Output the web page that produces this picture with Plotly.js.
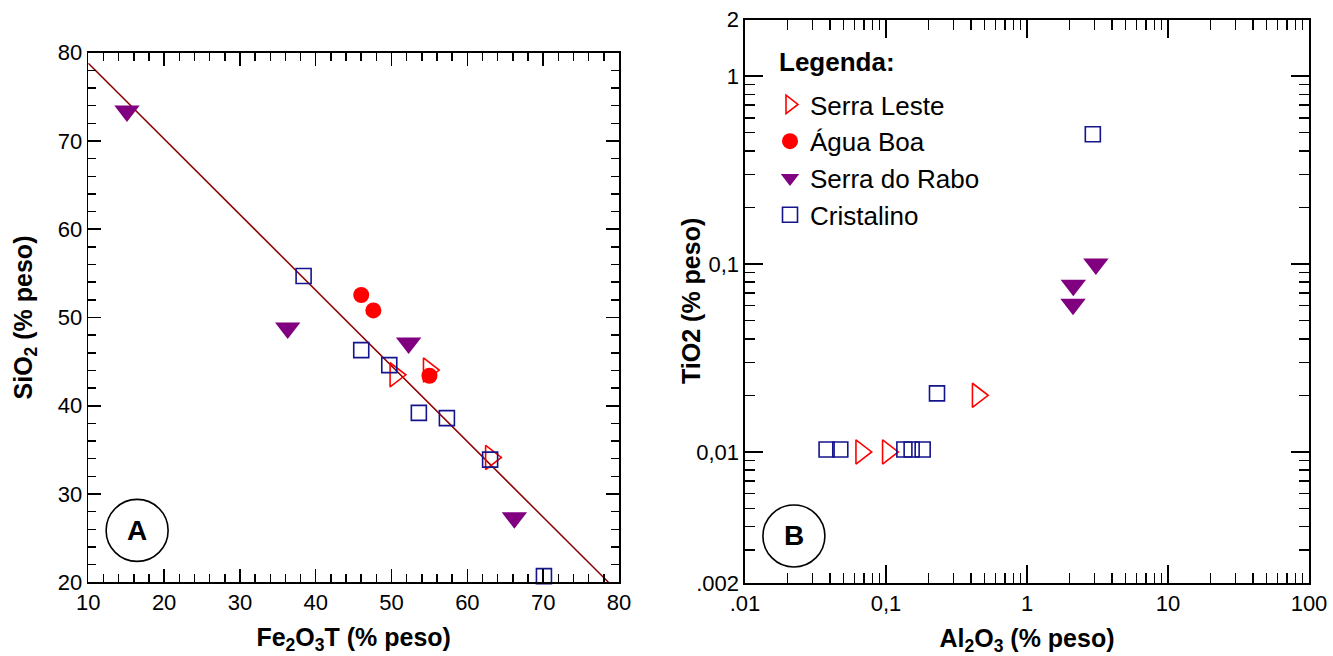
<!DOCTYPE html>
<html><head><meta charset="utf-8">
<script src="https://cdn.plot.ly/plotly-3.0.1.min.js"></script>
<style>html,body{margin:0;padding:0;background:#fff}#chart{width:1333px;height:656px}</style>
</head><body><div id="chart"></div>
<script>
// ---- Panel A: Fe2O3T vs SiO2 (% peso) ----
const serraLesteFe = [50.5, 54.9, 63.1];
const serraLesteSi = [43.5, 44.05, 34.15];
const aguaBoaFe = [46.0, 47.6, 55.0];
const aguaBoaSi = [52.55, 50.8, 43.4];
const serraRaboFe = [15.1, 36.3, 52.25, 66.2];
const serraRaboSi = [73.4, 48.8, 47.1, 27.3];
const cristalinoFe = [38.4, 46.0, 49.7, 53.6, 57.3, 63.0, 70.1];
const cristalinoSi = [54.7, 46.3, 44.6, 39.2, 38.6, 33.9, 20.7];
const fitFe = [10, 78.6];
const fitSi = [78.8, 20];
// ---- Panel B: Al2O3 vs TiO2 (% peso) ----
const serraLesteAl = [0.0667, 0.103, 0.447];
const serraLesteTi = [0.01, 0.01, 0.02];
const serraRaboAl = [3.08, 2.13, 2.12];
const serraRaboTi = [0.1, 0.077, 0.061];
const cristalinoAl = [2.93, 0.23, 0.0379, 0.0474, 0.135, 0.152, 0.182];
const cristalinoTi = [0.49, 0.0205, 0.0103, 0.0103, 0.0103, 0.0103, 0.0103];
// ---- tick labels ----
const xTicksA = [10, 20, 30, 40, 50, 60, 70, 80];
const yTicksA = [20, 30, 40, 50, 60, 70, 80];
const xTickValsB = [0.01, 0.1, 1, 10, 100];
const xTickTextB = ['.01', '0,1', '1', '10', '100'];
const yTickValsB = [0.002, 0.01, 0.1, 1, 2];
const yTickTextB = ['.002', '0,01', '0,1', '1', '2'];

const names = ['Serra Leste', 'Água Boa', 'Serra do Rabo', 'Cristalino'];
const RED = '#ff0000', PURPLE = '#800080', NAVY = '#14148c';
const mk = {
  'Serra Leste': {symbol: 'triangle-right-open', color: RED, size: 21, line: {color: RED, width: 1.6}},
  'Água Boa': {symbol: 'circle', color: RED, size: 16},
  'Serra do Rabo': {symbol: 'triangle-down', color: PURPLE, size: 22},
  'Cristalino': {symbol: 'square-open', color: NAVY, size: 15, line: {color: NAVY, width: 1.6}}
};

function logMinor(lo, hi) {
  const v = [];
  for (let e = -4; e <= 3; e++) for (let m = 2; m <= 9; m++) {
    const t = m * Math.pow(10, e);
    if (t > lo * 1.0001 && t < hi * 0.9999) v.push(t);
  }
  return v;
}

const traces = [
  {x: serraLesteFe, y: serraLesteSi, name: names[0], legendgroup: 'g0'},
  {x: aguaBoaFe, y: aguaBoaSi, name: names[1], legendgroup: 'g1'},
  {x: serraRaboFe, y: serraRaboSi, name: names[2], legendgroup: 'g2'},
  {x: cristalinoFe, y: cristalinoSi, name: names[3], legendgroup: 'g3'}
].map(t => Object.assign({type: 'scatter', mode: 'markers', xaxis: 'x', yaxis: 'y',
  marker: mk[t.name], hoverinfo: 'x+y+name', cliponaxis: false}, t));

traces.unshift({type: 'scatter', mode: 'lines', x: fitFe, y: fitSi, xaxis: 'x', yaxis: 'y',
  line: {color: '#8b0000', width: 1.5}, showlegend: false, hoverinfo: 'skip'});

[
  {x: serraLesteAl, y: serraLesteTi, name: names[0], legendgroup: 'g0'},
  {x: serraRaboAl, y: serraRaboTi, name: names[2], legendgroup: 'g2'},
  {x: cristalinoAl, y: cristalinoTi, name: names[3], legendgroup: 'g3'}
].forEach(t => traces.push(Object.assign({type: 'scatter', mode: 'markers', xaxis: 'x2', yaxis: 'y2',
  marker: mk[t.name], showlegend: false, hoverinfo: 'x+y+name', cliponaxis: false}, t)));

const FONT = 'Arial, "Liberation Sans", sans-serif';
const tickFont = {family: FONT, size: 22, color: '#000'};
const titleFont = {family: FONT, size: 25, color: '#000'};
const base = {showline: true, linecolor: '#000', linewidth: 1.6, mirror: 'ticks', ticks: 'inside',
  tickcolor: '#000', tickwidth: 1.5, ticklen: 13, showgrid: false, zeroline: false,
  tickfont: tickFont, automargin: false};

const layout = {
  width: 1333, height: 656,
  margin: {l: 0, r: 0, t: 0, b: 0},
  paper_bgcolor: '#fff', plot_bgcolor: '#fff',
  font: {family: FONT, color: '#000'},
  xaxis: Object.assign({}, base, {domain: [88.3/1333, 619/1333], range: [10, 80],
    tickmode: 'array', tickvals: xTicksA, anchor: 'y',
    minor: {dtick: 2, ticks: 'inside', ticklen: 8, tickwidth: 1.5, tickcolor: '#000', showgrid: false},
    title: {text: '<b>Fe<sub>2</sub>O<sub>3</sub>T (% peso)</b>', font: titleFont, standoff: 14}}),
  yaxis: Object.assign({}, base, {domain: [(656-582.3)/656, (656-52.7)/656], range: [20, 80],
    tickmode: 'array', tickvals: yTicksA, anchor: 'x',
    minor: {dtick: 2, ticks: 'inside', ticklen: 8, tickwidth: 1.5, tickcolor: '#000', showgrid: false},
    title: {text: '<b>SiO<sub>2</sub> (% peso)</b>', font: titleFont, standoff: 18}}),
  xaxis2: Object.assign({}, base, {domain: [745/1333, 1309/1333], type: 'log', range: [-2, 2],
    tickmode: 'array', tickvals: xTickValsB, ticktext: xTickTextB, anchor: 'y2', ticklen: 18,
    minor: {tickmode: 'array', tickvals: logMinor(0.01, 100), ticks: 'inside', ticklen: 10, tickwidth: 1.5, tickcolor: '#000', showgrid: false},
    title: {text: '<b>Al<sub>2</sub>O<sub>3</sub> (% peso)</b>', font: titleFont, standoff: 14}}),
  yaxis2: Object.assign({}, base, {domain: [(656-583.3)/656, (656-19.5)/656], type: 'log',
    range: [Math.log10(0.002), Math.log10(2)],
    tickmode: 'array', tickvals: yTickValsB, ticktext: yTickTextB, anchor: 'x2', ticklen: 18,
    minor: {tickmode: 'array', tickvals: logMinor(0.002, 2), ticks: 'inside', ticklen: 10, tickwidth: 1.5, tickcolor: '#000', showgrid: false}}),
  legend: {x: 770/1333, y: (656-81)/656, xanchor: 'left', yanchor: 'top', bgcolor: 'rgba(0,0,0,0)',
    borderwidth: 0, font: {family: FONT, size: 26, color: '#000'},
    tracegroupgap: 1, traceorder: 'normal'},
  shapes: [
    {type: 'circle', xref: 'x domain', yref: 'y domain', xsizemode: 'pixel', ysizemode: 'pixel',
      xanchor: 0.092, yanchor: 0.098, x0: -31, x1: 31, y0: -31, y1: 31,
      line: {color: '#000', width: 1.6}},
    {type: 'circle', xref: 'x2 domain', yref: 'y2 domain', xsizemode: 'pixel', ysizemode: 'pixel',
      xanchor: 0.0867, yanchor: 0.0839, x0: -31, x1: 31, y0: -31, y1: 31,
      line: {color: '#000', width: 1.6}}
  ],
  annotations: [
    {xref: 'x domain', yref: 'y domain', x: 0.092, y: 0.098, text: '<b>A</b>', showarrow: false,
      font: {family: FONT, size: 28, color: '#000'}, xanchor: 'center', yanchor: 'middle'},
    {xref: 'x2 domain', yref: 'y2 domain', x: 0.0867, y: 0.0839, text: '<b>B</b>', showarrow: false,
      font: {family: FONT, size: 28, color: '#000'}, xanchor: 'center', yanchor: 'middle'},
    {xref: 'paper', yref: 'paper', x: 777/1333, y: (656-62)/656, text: '<b>Legenda:</b>', showarrow: false,
      font: {family: FONT, size: 26, color: '#000'}, xanchor: 'left', yanchor: 'middle'},
    {xref: 'paper', yref: 'paper', x: 691/1333, y: (656-301)/656, text: '<b>TiO2 (% peso)</b>', showarrow: false,
      textangle: -90, font: titleFont, xanchor: 'center', yanchor: 'middle'}
  ],
  showlegend: true
};

Plotly.newPlot('chart', traces, layout, {displayModeBar: false, staticPlot: true});
</script>
</body></html>
